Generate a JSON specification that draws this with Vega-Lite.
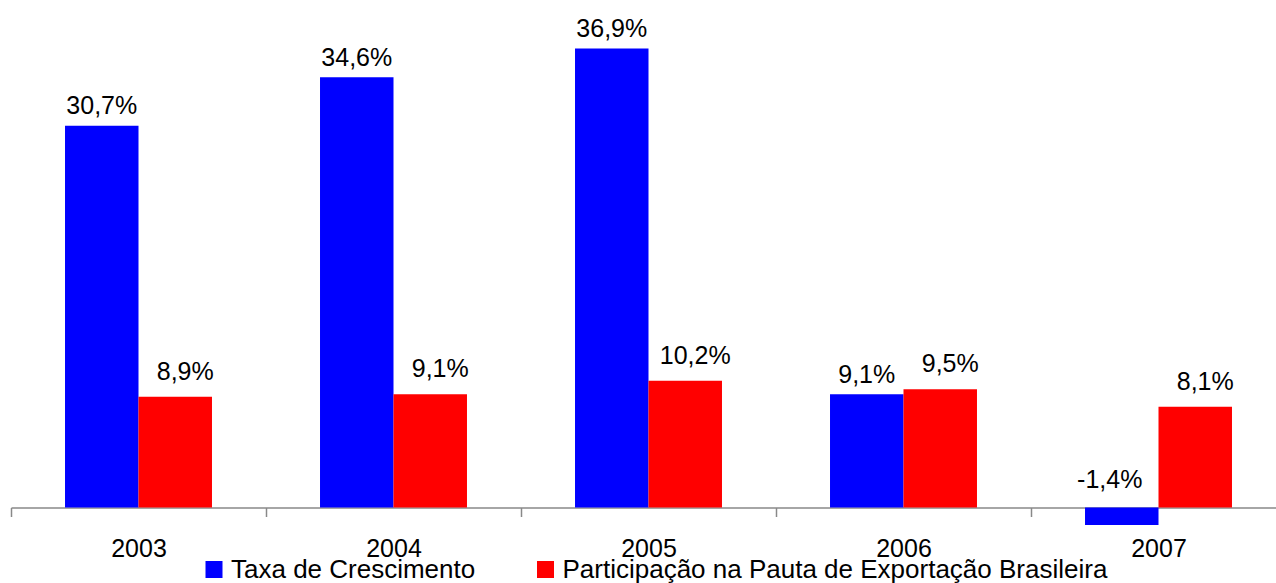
{
  "$schema": "https://vega.github.io/schema/vega-lite/v6.json",
  "width": 1265,
  "height": 497.5,
  "autosize": {"type": "none"},
  "padding": {"left": 11, "top": 10, "right": 0, "bottom": 75.5},
  "background": "white",
  "config": {
    "view": {"stroke": null},
    "font": "Liberation Sans",
    "text": {"font": "Liberation Sans"}
  },
  "data": {
    "values": [
      {"year": "2003", "serie": "Taxa de Crescimento", "value": 30.7, "label": "30,7%"},
      {"year": "2004", "serie": "Taxa de Crescimento", "value": 34.6, "label": "34,6%"},
      {"year": "2005", "serie": "Taxa de Crescimento", "value": 36.9, "label": "36,9%"},
      {"year": "2006", "serie": "Taxa de Crescimento", "value": 9.1, "label": "9,1%"},
      {"year": "2007", "serie": "Taxa de Crescimento", "value": -1.4, "label": "-1,4%"},
      {"year": "2003", "serie": "Participação na Pauta de Exportação Brasileira", "value": 8.9, "label": "8,9%"},
      {"year": "2004", "serie": "Participação na Pauta de Exportação Brasileira", "value": 9.1, "label": "9,1%"},
      {"year": "2005", "serie": "Participação na Pauta de Exportação Brasileira", "value": 10.2, "label": "10,2%"},
      {"year": "2006", "serie": "Participação na Pauta de Exportação Brasileira", "value": 9.5, "label": "9,5%"},
      {"year": "2007", "serie": "Participação na Pauta de Exportação Brasileira", "value": 8.1, "label": "8,1%"}
    ]
  },
  "encoding": {
    "x": {
      "field": "year",
      "type": "nominal",
      "scale": {"range": [0, 1275], "paddingInner": 0, "paddingOuter": 0},
      "axis": {
        "title": null,
        "labelAngle": 0,
        "labelFont": "Liberation Sans",
        "labelFontSize": 25,
        "labelColor": "#000000",
        "labelBaseline": "alphabetic",
        "labelPadding": 39.5,
        "tickBand": "extent",
        "tickSize": 9,
        "tickColor": "#898989",
        "tickWidth": 1.5,
        "domainColor": "#898989",
        "domainWidth": 1.5,
        "grid": false,
        "labelOverlap": false
      }
    },
    "xOffset": {
      "field": "serie",
      "type": "nominal",
      "scale": {
        "domain": ["Taxa de Crescimento", "Participação na Pauta de Exportação Brasileira"],
        "paddingInner": 0,
        "paddingOuter": 0.735
      }
    }
  },
  "layer": [
    {
      "mark": {"type": "bar"},
      "encoding": {
        "y": {
          "field": "value",
          "type": "quantitative",
          "scale": {"domain": [0, 40], "nice": false, "zero": true},
          "axis": null
        },
        "color": {
          "field": "serie",
          "type": "nominal",
          "scale": {
            "domain": ["Taxa de Crescimento", "Participação na Pauta de Exportação Brasileira"],
            "range": ["#0000ff", "#ff0000"]
          },
          "legend": {
            "title": null,
            "orient": "none",
            "direction": "horizontal",
            "legendX": 190,
            "legendY": 546.5,
            "padding": 0,
            "symbolType": "square",
            "symbolSize": 289,
            "symbolStrokeWidth": 0,
            "symbolOpacity": 1,
            "labelFont": "Liberation Sans",
            "labelFontSize": 26,
            "labelColor": "#000000",
            "labelOffset": 4,
            "labelLimit": 800,
            "columnPadding": 56.5
          }
        }
      }
    },
    {
      "transform": [{"filter": "datum.serie == 'Taxa de Crescimento' && datum.value >= 0"}],
      "mark": {"type": "text", "align": "center", "baseline": "alphabetic", "dy": -11.5, "fontSize": 25, "font": "Liberation Sans", "color": "#000000"},
      "encoding": {
        "y": {"field": "value", "type": "quantitative"},
        "text": {"field": "label"}
      }
    },
    {
      "transform": [{"filter": "datum.serie != 'Taxa de Crescimento'"}],
      "mark": {"type": "text", "align": "center", "baseline": "alphabetic", "dy": -17, "dx": 10, "fontSize": 25, "font": "Liberation Sans", "color": "#000000"},
      "encoding": {
        "y": {"field": "value", "type": "quantitative"},
        "text": {"field": "label"}
      }
    },
    {
      "transform": [{"filter": "datum.value < 0"}],
      "mark": {"type": "text", "align": "center", "baseline": "alphabetic", "dy": -19.6, "dx": -12, "fontSize": 25, "font": "Liberation Sans", "color": "#000000"},
      "encoding": {
        "y": {"datum": 0, "type": "quantitative"},
        "text": {"field": "label"}
      }
    }
  ]
}
